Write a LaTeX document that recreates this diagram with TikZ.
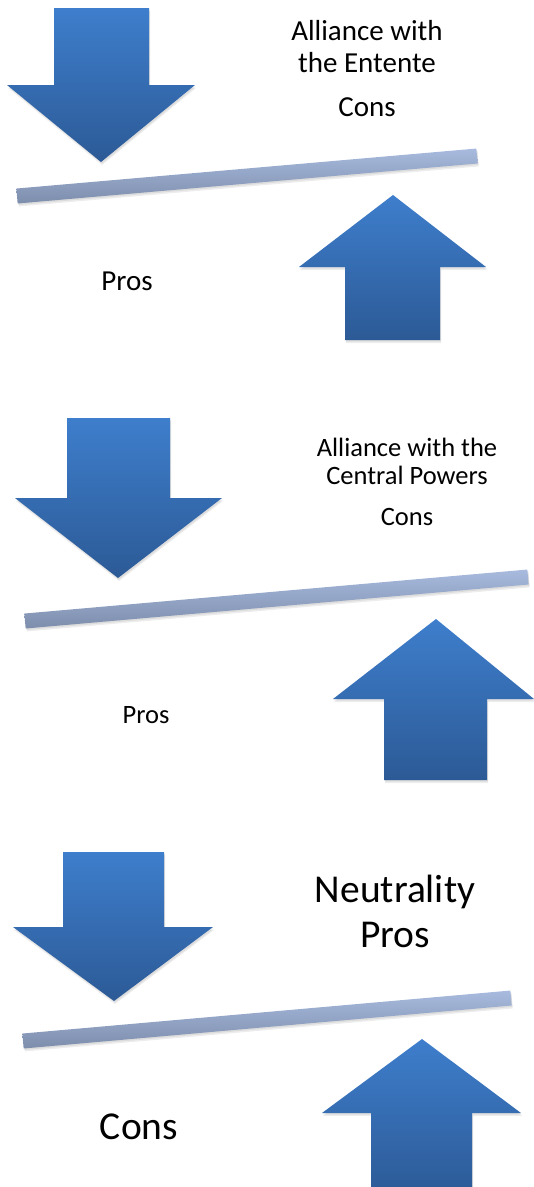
\documentclass[tikz,border=0pt]{standalone}
\usepackage{fontspec}
\setmainfont{Carlito}
\usetikzlibrary{calc}
\definecolor{arrtop}{RGB}{62,126,204}
\definecolor{arrbot}{RGB}{44,90,150}
\definecolor{bartop}{RGB}{168,187,222}
\definecolor{barbot}{RGB}{125,141,172}
\tikzset{
  arrowshape/.style={top color=arrtop, bottom color=arrbot, draw=none},
  barshape/.style={top color=bartop, bottom color=barbot, draw=none},
  shadowshape/.style={fill=black, opacity=0.07, draw=none},
  lblA/.style={inner sep=0pt, align=center, font=\fontsize{29}{32}\selectfont},
  lblB/.style={inner sep=0pt, align=center, font=\fontsize{26.5}{28}\selectfont},
  lblC/.style={inner sep=0pt, align=center, font=\fontsize{39.5}{45}\selectfont},
}
\newcommand{\downarr}[8]{% sx1 sx2 top headx1 headx2 heady tipx tipy
  \foreach \o in {1.5,3}{%
  \fill[shadowshape] (#1+1,#3+\o) -- (#2+1,#3+\o) -- (#2+1,#6+\o) -- (#5+1,#6+\o) -- (#7+1,#8+\o) -- (#4+1,#6+\o) -- (#1+1,#6+\o) -- cycle;}
  \shade[arrowshape] (#1,#3) -- (#2,#3) -- (#2,#6) -- (#5,#6) -- (#7,#8) -- (#4,#6) -- (#1,#6) -- cycle;}
\newcommand{\uparr}[8]{% sx1 sx2 bottom headx1 headx2 heady tipx tipy
  \foreach \o in {1.5,3}{%
  \fill[shadowshape] (#1+1,#3+\o) -- (#2+1,#3+\o) -- (#2+1,#6+\o) -- (#5+1,#6+\o) -- (#7+1,#8+\o) -- (#4+1,#6+\o) -- (#1+1,#6+\o) -- cycle;}
  \shade[arrowshape] (#1,#3) -- (#2,#3) -- (#2,#6) -- (#5,#6) -- (#7,#8) -- (#4,#6) -- (#1,#6) -- cycle;}
\newcommand{\tiltbar}[2]{%
  \foreach \o in {1.5,3}{%
  \fill[shadowshape] ($(#1)!7.5pt!90:(#2)+(1,\o)$) -- ($(#2)!7.5pt!-90:(#1)+(1,\o)$) -- ($(#2)!7.5pt!90:(#1)+(1,\o)$) -- ($(#1)!7.5pt!-90:(#2)+(1,\o)$) -- cycle;}
  \shade[barshape] ($(#1)!7.5pt!90:(#2)$) -- ($(#2)!7.5pt!-90:(#1)$) -- ($(#2)!7.5pt!90:(#1)$) -- ($(#1)!7.5pt!-90:(#2)$) -- cycle;}
\begin{document}
\begin{tikzpicture}[x=1pt,y=-1pt]
\useasboundingbox (0,0) rectangle (534,1187);
% ---------- panel 1 ----------
\downarr{54}{149}{8}{7}{195}{85}{101}{162}
\coordinate (b1l) at (17,196);
\coordinate (b1r) at (477,156);
\tiltbar{b1l}{b1r}
\uparr{345}{440}{340}{299}{486}{267}{393}{195}
\node[lblA] (t1) at (367,47) {Alliance with\\the Entente};
\node[lblA] (c1) at (367,107) {Cons};
\node[lblA] (p1) at (127,281) {Pros};
% ---------- panel 2 ----------
\downarr{67}{170}{418}{15}{222}{498}{118}{578}
\coordinate (b2l) at (25,621);
\coordinate (b2r) at (528,577);
\tiltbar{b2l}{b2r}
\uparr{384}{487}{780}{333}{534}{699}{436}{619}
\node[lblB] (t2) at (407,461) {Alliance with the\\Central Powers};
\node[lblB] (c2) at (407,517) {Cons};
\node[lblB] (p2) at (146,715) {Pros};
% ---------- panel 3 ----------
\downarr{63}{164}{852}{13}{213}{927}{114}{1001}
\coordinate (b3l) at (23,1041);
\coordinate (b3r) at (511,998);
\tiltbar{b3l}{b3r}
\uparr{371}{472}{1195}{322}{521}{1113}{422}{1039}
\node[lblC] (t3) at (395,911) {Neutrality\\Pros};
\node[lblC] (c3) at (139,1127) {Cons};
\end{tikzpicture}
\end{document}
